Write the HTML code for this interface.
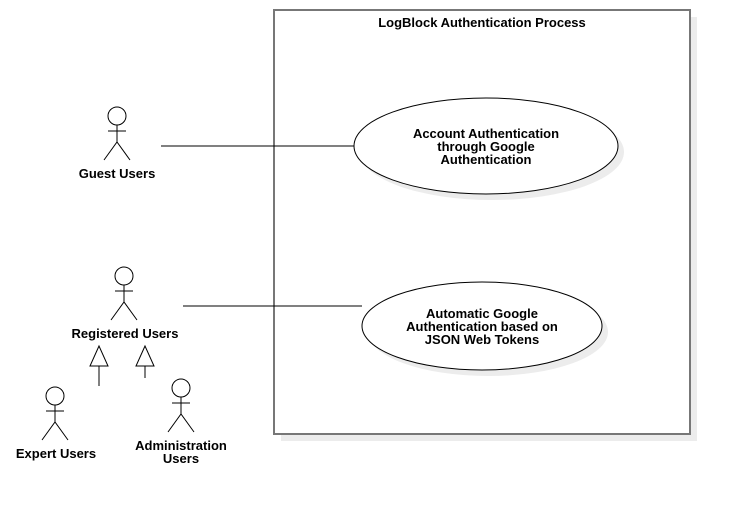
<!DOCTYPE html>
<html><head><style>body{margin:0;background:#fff}svg{display:block}text{font-family:"Liberation Sans",Arial,sans-serif;font-size:13px;font-weight:bold;fill:#000;text-anchor:middle}</style></head><body>
<svg width="731" height="511" viewBox="0 0 731 511">
<rect x="281" y="17" width="416" height="424" fill="#ececec"/>
<rect x="274" y="10" width="416" height="424" fill="#fff" stroke="#777" stroke-width="2"/>
<text x="482" y="27">LogBlock Authentication Process</text>
<ellipse cx="492" cy="152" rx="132" ry="48" fill="#ececec"/>
<ellipse cx="486" cy="146" rx="132" ry="48" fill="#fff" stroke="#000"/>
<text x="486" y="138">Account Authentication</text>
<text x="486" y="151">through Google</text>
<text x="486" y="164">Authentication</text>
<ellipse cx="488" cy="332" rx="120" ry="44" fill="#ececec"/>
<ellipse cx="482" cy="326" rx="120" ry="44" fill="#fff" stroke="#000"/>
<text x="482" y="318">Automatic Google</text>
<text x="482" y="331">Authentication based on</text>
<text x="482" y="344">JSON Web Tokens</text>
<g stroke="#000" fill="none" stroke-width="1">
<line x1="161" y1="146" x2="354" y2="146"/>
<line x1="183" y1="306" x2="362" y2="306"/>
<circle cx="117" cy="116" r="9"/><line x1="117" y1="125" x2="117" y2="142"/><line x1="108" y1="131" x2="126" y2="131"/><polyline points="104,160 117,142 130,160"/>
<circle cx="124" cy="276" r="9"/><line x1="124" y1="285" x2="124" y2="302"/><line x1="115" y1="291" x2="133" y2="291"/><polyline points="111,320 124,302 137,320"/>
<circle cx="55" cy="396" r="9"/><line x1="55" y1="405" x2="55" y2="422"/><line x1="46" y1="411" x2="64" y2="411"/><polyline points="42,440 55,422 68,440"/>
<circle cx="181" cy="388" r="9"/><line x1="181" y1="397" x2="181" y2="414"/><line x1="172" y1="403" x2="190" y2="403"/><polyline points="168,432 181,414 194,432"/>
<polygon points="99,346 90,366 108,366"/><line x1="99" y1="366" x2="99" y2="386"/>
<polygon points="145,346 136,366 154,366"/><line x1="145" y1="366" x2="145" y2="378"/>
</g>
<text x="117" y="178">Guest Users</text>
<text x="125" y="338">Registered Users</text>
<text x="56" y="458">Expert Users</text>
<text x="181" y="450">Administration</text>
<text x="181" y="463">Users</text>
</svg>
</body></html>
